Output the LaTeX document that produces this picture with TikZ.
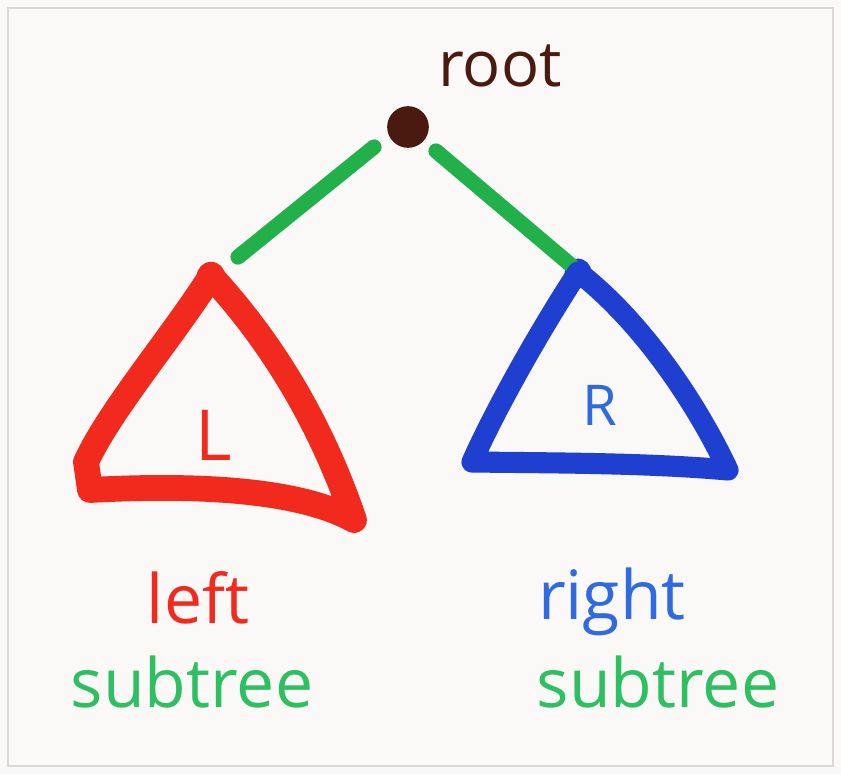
\documentclass[tikz,border=0pt]{standalone}
\usepackage{fontspec}
\setmainfont{Open Sans}
\definecolor{paper}{HTML}{FAF9F7}
\definecolor{rootbrown}{HTML}{4A1A10}
\definecolor{edgegreen}{HTML}{22B04A}
\definecolor{textgreen}{HTML}{2EC060}
\definecolor{redtri}{HTML}{F22A1E}
\definecolor{bluetri}{HTML}{1E3FD0}
\definecolor{bluetext}{HTML}{2F6AE0}
\begin{document}
\begin{tikzpicture}[x=0.03cm,y=-0.03cm,
  edge/.style={draw=edgegreen,line width=13pt,line cap=round},
  tri/.style={line join=round,line cap=round},
  lbl/.style={inner sep=0pt,anchor=center},
  hand/.style={font=\fontsize{58}{66}\selectfont}]
\fill[paper] (0,0) rectangle (841,774);
\draw[gray!30,line width=1pt] (8,8) rectangle (833,766);
\useasboundingbox (0,0) rectangle (841,774);
% root
\node[circle,fill=rootbrown,minimum size=1.25cm,inner sep=0pt] (root) at (408,127) {};
\node[lbl,font=\fontsize{54}{60}\selectfont,text=rootbrown] (rootlbl) at (500,66) {root};
% subtree tops
\node[circle,fill=redtri,minimum size=0.85cm,inner sep=0pt] (ltop) at (211,276) {};
\node[circle,fill=bluetri,minimum size=0.8cm,inner sep=0pt] (rtop) at (578,272) {};
% edges
\coordinate (e1a) at (374,147);
\coordinate (e1b) at (238,257);
\coordinate (e2a) at (436,151);
\coordinate (e2b) at (572,266);
\draw[edge] (e1a) -- (e1b);
\draw[edge] (e2a) -- (e2b);
% red triangle
\coordinate (lbl1) at (86,462);
\coordinate (lbr) at (354,520);
\draw[tri,draw=redtri,line width=22pt] (ltop.center) .. controls (170,340) and (110,410) .. (lbl1)
  -- (90,490) .. controls (200,484) and (300,490) .. (lbr)
  .. controls (320,420) and (270,340) .. (ltop.center);
% blue triangle
\coordinate (rbl) at (472,462);
\coordinate (rbr) at (728,470);
\draw[tri,draw=bluetri,line width=18pt] (rtop.center) .. controls (540,330) and (495,410) .. (rbl)
  .. controls (560,463) and (650,463) .. (rbr)
  .. controls (695,400) and (640,320) .. (rtop.center);
% letters
\node[lbl,font=\fontsize{60}{70}\selectfont,text=redtri] (L) at (214,435) {L};
\node[lbl,font=\fontsize{48}{56}\selectfont,text=bluetext] (R) at (600,405) {R};
% labels
\node[lbl,hand,text=redtri] (left) at (198,598) {left};
\node[lbl,hand,text=textgreen] (lsub) at (192,682) {subtree};
\node[lbl,hand,text=bluetext] (right) at (612,602) {right};
\node[lbl,hand,text=textgreen] (rsub) at (658,682) {subtree};
\end{tikzpicture}
\end{document}
